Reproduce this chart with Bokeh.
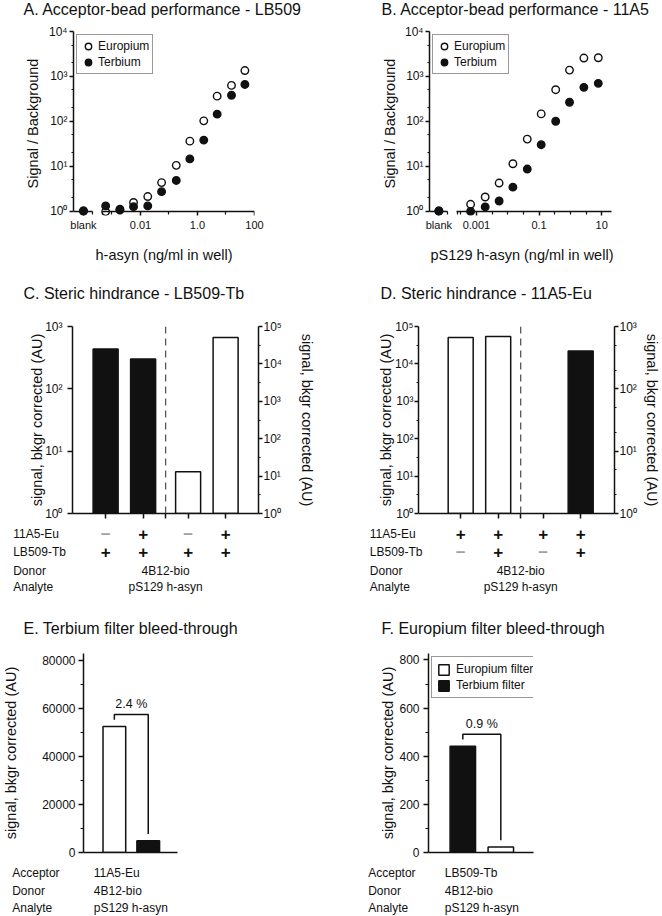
import math
from bokeh.plotting import figure
from bokeh.layouts import column, row
from bokeh.models import (LogAxis, FixedTicker, Range1d, LogScale, Span, Label,
                          ColumnDataSource, Legend, LegendItem)
from bokeh.core.properties import value
from bokeh.embed import file_html
from bokeh.resources import INLINE

FONT = "Liberation Sans"
INK = "#111111"

# ---------------- data ----------------
series_names = ["Europium", "Terbium"]

# A. LB509 acceptor beads, h-asyn (ng/ml in well)
a_conc = [0.0006, 0.0019, 0.0057, 0.018, 0.055, 0.18, 0.54, 1.66, 4.9, 15.6, 46.0]
a_europium = [0.97, 1.05, 1.55, 2.1, 4.3, 10.4, 36, 102, 363, 630, 1350]
a_terbium = [1.3, 1.1, 1.25, 1.3, 2.7, 4.8, 14.5, 38, 144, 380, 660]
a_blank = [1.0, 1.0]
a_xticks = [0.01, 1, 100]
a_xtick_labels = ["0.01", "1.0", "100"]

# B. 11A5 acceptor beads, pS129 h-asyn (ng/ml in well)
b_conc = [0.00065, 0.0019, 0.0053, 0.0146, 0.042, 0.117, 0.34, 0.94, 2.7, 7.8]
b_europium = [1.41, 2.05, 4.2, 11.3, 40, 146, 505, 1380, 2560, 2600]
b_terbium = [0.98, 1.23, 1.67, 3.4, 8.6, 30, 100, 265, 570, 700]
b_blank = [1.0, 1.0]
b_xticks = [0.001, 0.1, 10]
b_xtick_labels = ["0.001", "0.1", "10"]

log_ticks = [1, 10, 100, 1000, 10000, 100000]
log_tick_labels = ["10⁰", "10¹", "10²", "10³", "10⁴", "10⁵"]

# C / D. steric hindrance
table_rows = ["11A5-Eu", "LB509-Tb", "Donor", "Analyte"]
donor = "4B12-bio"
analyte = "pS129 h-asyn"
c_signal = [435, 302, 13, 51000]
c_channel = ["Terbium", "Terbium", "Europium", "Europium"]
c_row_11a5 = ["−", "+", "−", "+"]
c_row_lb509 = ["+", "+", "+", "+"]
d_signal = [51000, 54000, float("nan"), 406]
d_channel = ["Europium", "Europium", "Terbium", "Terbium"]
d_row_11a5 = ["+", "+", "+", "+"]
d_row_lb509 = ["−", "+", "−", "+"]

# E / F. filter bleed-through
ef_rows = ["Acceptor", "Donor", "Analyte"]
e_filters = ["Europium filter", "Terbium filter"]
e_signal = [52600, 4900]
e_percent = "2.4 %"
e_acceptor = "11A5-Eu"
e_yticks = [0, 20000, 40000, 60000, 80000]
f_filters = ["Terbium filter", "Europium filter"]
f_signal = [442, 22.6]
f_percent = "0.9 %"
f_acceptor = "LB509-Tb"
f_yticks = [0, 200, 400, 600, 800]

titles = ["A. Acceptor-bead performance - LB509", "B. Acceptor-bead performance - 11A5",
          "C. Steric hindrance - LB509-Tb", "D. Steric hindrance - 11A5-Eu",
          "E. Terbium filter bleed-through", "F. Europium filter bleed-through"]

CHANNEL_FILL = {"Europium": "white", "Terbium": INK}
FILTER_FILL = {"Europium filter": "white", "Terbium filter": INK}
SIGN_COLOR = {"+": INK, "−": "#a0a0a0"}

UNIT_PX = 37.5      # px per bar slot in C / D
GROUP_GAP = 0.2     # extra slot gap between the two bar groups
COL_W = 331


# ---------------- helpers ----------------
def base_fig(w, h, bl, br, bt, bb, **kw):
    p = figure(width=w, height=h, min_border_left=bl, min_border_right=br,
               min_border_top=bt, min_border_bottom=bb, output_backend="svg",
               toolbar_location=None, **kw)
    p.outline_line_color = None
    p.xgrid.visible = False
    p.ygrid.visible = False
    return p


def strip(w, h, x_range=None):
    p = figure(width=w, height=h, x_range=x_range or Range1d(0, w), y_range=Range1d(h, 0),
               x_axis_type=None, y_axis_type=None, output_backend="svg", toolbar_location=None,
               min_border_left=0, min_border_right=0, min_border_top=0, min_border_bottom=0)
    p.outline_line_color = None
    return p


def put_text(p, x, y, text, size="12px", align="left", x_offset=0, color=INK, style="normal"):
    p.text(x=[x], y=[y], text=[text], x_offset=x_offset, text_font=value(FONT),
           text_font_size=size, text_color=color, text_align=align, text_baseline="middle",
           text_font_style=style)


def style_axis(ax, tick_out=5, label_standoff=4, axis_label_standoff=5, tick_font="12px"):
    ax.axis_line_color = INK
    ax.axis_line_width = 1.5
    ax.major_tick_line_color = INK
    ax.major_tick_line_width = 1.5
    ax.minor_tick_line_color = INK
    ax.minor_tick_line_width = 1.2
    ax.major_tick_in = 0
    ax.major_tick_out = tick_out
    ax.minor_tick_in = 0
    ax.minor_tick_out = max(0, tick_out - 2)
    ax.major_label_standoff = label_standoff
    ax.major_label_text_font = FONT
    ax.major_label_text_font_size = tick_font
    ax.major_label_text_color = INK
    ax.axis_label_standoff = axis_label_standoff
    ax.axis_label_text_font = FONT
    ax.axis_label_text_font_size = "14.5px"
    ax.axis_label_text_font_style = "normal"
    ax.axis_label_text_color = INK


def hide_labels(ax, ticks):
    ax.major_label_overrides = {t: "" for t in ticks}
    ax.major_label_text_font_size = "2px"
    ax.major_label_standoff = 0


def log_minor(lo_exp, hi_exp, mults=(2, 5)):
    return [m * 10 ** k for k in range(lo_exp, hi_exp) for m in mults]


def dose_panel(w, h, bl, br, bt, bb, x_range, conc, eu, tb, blank, blank_x, blank_bounds,
               main_bounds, xticks, xtick_labels, xminor, xlabel, ylab_std):
    p = base_fig(w, h, bl, br, bt, bb, x_range=Range1d(*x_range),
                 y_range=Range1d(10 ** -0.1, 10 ** 4), x_axis_type="log", y_axis_type="log")
    xs = [blank_x] + list(conc)
    p.scatter(xs, [blank[0]] + list(eu), marker="circle", size=7.5, fill_color="white",
              line_color=INK, line_width=1.4, legend_label=series_names[0])
    p.scatter(xs, [blank[1]] + list(tb), marker="circle", size=7.5, fill_color=INK,
              line_color=INK, line_width=1.4, legend_label=series_names[1])

    # labels-only axis at the frame bottom
    lab = p.below[0]
    style_axis(lab, tick_out=0, label_standoff=3, axis_label_standoff=13, tick_font="11px")
    lab.axis_line_color = None
    lab.major_tick_line_color = None
    lab.minor_tick_line_color = None
    lab.minor_tick_out = 0
    ticks = [blank_x] + list(xticks)
    lab.ticker = FixedTicker(ticks=ticks)
    lab.major_label_overrides = dict(zip(ticks, ["blank"] + list(xtick_labels)))
    lab.axis_label = xlabel

    # broken axis line (blank segment + main segment) drawn at y = 1
    for bounds, tks, minors in ((main_bounds, xticks, xminor),
                                (blank_bounds, [blank_x], [blank_bounds[1] * 0.97])):
        ax = LogAxis(ticker=FixedTicker(ticks=list(tks), minor_ticks=list(minors)),
                     bounds=bounds, fixed_location=1)
        style_axis(ax, tick_out=5)
        hide_labels(ax, tks)
        p.add_layout(ax, "below")

    ay = p.left[0]
    style_axis(ay, tick_out=4, label_standoff=2, axis_label_standoff=ylab_std)
    ay.ticker = FixedTicker(ticks=log_ticks[:5], minor_ticks=log_minor(0, 4))
    ay.major_label_overrides = dict(zip(log_ticks, log_tick_labels))
    ay.bounds = (1, 10000)
    ay.axis_label = "Signal / Background"

    lg = p.legend[0]
    lg.location = "top_left"
    lg.margin = 3
    lg.padding = 3
    lg.spacing = 0
    lg.border_line_color = "#333333"
    lg.border_line_width = 1
    lg.label_text_font = FONT
    lg.label_text_font_size = "12px"
    lg.label_text_color = INK
    lg.label_height = 15
    lg.glyph_height = 16
    lg.glyph_width = 16
    lg.label_standoff = 2
    return p


def slot_positions(n):
    pos = [i + 1 + (GROUP_GAP if i >= n // 2 else 0) for i in range(n)]
    divider = (pos[n // 2 - 1] + pos[n // 2]) / 2
    return pos, divider


def steric_panel(w, h, bl, br, bt, bb, x_start, signal, channel, left_channel, left_max, right_max,
                 left_style, right_style):
    fw = w - bl - br
    p = base_fig(w, h, bl, br, bt, bb, x_range=Range1d(x_start, x_start + fw / UNIT_PX),
                 y_range=Range1d(1, left_max), y_axis_type="log")
    p.extra_y_ranges = {"right": Range1d(1, right_max)}
    p.extra_y_scales = {"right": LogScale()}
    n = len(signal)
    pos, divider = slot_positions(n)

    for side in ("left", "right"):
        idx = [i for i in range(n) if (channel[i] == left_channel) == (side == "left")
               and not math.isnan(signal[i])]
        src = ColumnDataSource(dict(x=[pos[i] for i in idx], top=[signal[i] for i in idx],
                                    fill=[CHANNEL_FILL[channel[i]] for i in idx]))
        kw = {} if side == "left" else {"y_range_name": "right"}
        p.vbar(x="x", top="top", bottom=1, width=0.667, fill_color="fill", line_color=INK,
               line_width=1.5, source=src, **kw)

    p.add_layout(Span(location=divider, dimension="height", line_color="#555555",
                      line_width=1.3, line_dash="7 5"))

    ax = p.below[0]
    style_axis(ax, tick_out=5)
    xt = pos[: n // 2] + [divider] + pos[n // 2:]
    ax.ticker = FixedTicker(ticks=xt)
    hide_labels(ax, xt)

    ay = p.left[0]
    tick_out, std, lab_std, minors = left_style
    style_axis(ay, tick_out=tick_out, label_standoff=std, axis_label_standoff=lab_std)
    top_exp = int(round(math.log10(left_max)))
    ay.ticker = FixedTicker(ticks=log_ticks[: top_exp + 1], minor_ticks=minors)
    ay.major_label_overrides = dict(zip(log_ticks, log_tick_labels))
    ay.axis_label = "signal, bkgr corrected (AU)"

    tick_out, std, lab_std, minors = right_style
    r_exp = int(round(math.log10(right_max)))
    ra = LogAxis(y_range_name="right",
                 ticker=FixedTicker(ticks=log_ticks[: r_exp + 1], minor_ticks=minors),
                 major_label_overrides=dict(zip(log_ticks, log_tick_labels)),
                 axis_label="signal, bkgr corrected (AU)")
    style_axis(ra, tick_out=tick_out, label_standoff=std, axis_label_standoff=lab_std)
    p.add_layout(ra, "right")
    return p


def steric_table(w, h, bl, x_start, n, row_11a5, row_lb509, row_dx, row_y, next_title, title_dx, title_y):
    start = x_start - bl / UNIT_PX
    t = strip(w, h, x_range=Range1d(start, start + w / UNIT_PX))
    pos, divider = slot_positions(n)
    for rname, y in zip(table_rows, row_y):
        put_text(t, start, y, rname, x_offset=row_dx)
    for signs, y in ((row_11a5, row_y[0]), (row_lb509, row_y[1])):
        src = ColumnDataSource(dict(x=pos, y=[y] * n, text=signs,
                                    color=[SIGN_COLOR[s] for s in signs]))
        t.text(x="x", y="y", text="text", text_color="color", source=src,
               text_font=value(FONT), text_font_size="17px", text_font_style="bold",
               text_align="center", text_baseline="middle")
    put_text(t, divider, row_y[2], donor, align="center")
    put_text(t, divider, row_y[3], analyte, align="center")
    put_text(t, start, title_y, next_title, size="16px", x_offset=title_dx)
    return t


def bleed_panel(w, h, bl, br, bt, bb, x_start, unit_px, filters, signal, yticks, ymax, percent,
                ylab_std, tick_std, legend=False):
    fw = w - bl - br
    p = base_fig(w, h, bl, br, bt, bb, x_range=Range1d(x_start, x_start + fw / unit_px),
                 y_range=Range1d(0, ymax))
    pos = [i + 1 for i in range(len(signal))]
    src = ColumnDataSource(dict(x=pos, top=signal, fill=[FILTER_FILL[f] for f in filters]))
    r = p.vbar(x="x", top="top", bottom=0, width=0.67, fill_color="fill", line_color=INK,
               line_width=1.5, source=src)

    scale_top = yticks[-1]
    pad = 0.035 * scale_top
    top = max(signal) + 0.062 * scale_top
    p.line([pos[0], pos[0], pos[1], pos[1]], [signal[0] + pad, top, top, signal[1] + pad],
           line_color=INK, line_width=1.5)
    p.add_layout(Label(x=(pos[0] + pos[1]) / 2, y=top, y_offset=3, text=percent, text_font=FONT,
                       text_font_size="12.5px", text_color=INK, text_align="center",
                       text_baseline="bottom"))

    ax = p.below[0]
    style_axis(ax, tick_out=0, label_standoff=0, tick_font="0px")
    ax.ticker = FixedTicker(ticks=[])

    ay = p.left[0]
    style_axis(ay, tick_out=5, label_standoff=tick_std, axis_label_standoff=ylab_std)
    step = yticks[1] - yticks[0]
    ay.ticker = FixedTicker(ticks=yticks, minor_ticks=[t + step / 2 for t in yticks[:-1]])
    ay.major_label_overrides = {t: str(t) for t in yticks}
    ay.axis_label = "signal, bkgr corrected (AU)"

    if legend:
        order = [filters.index("Europium filter"), filters.index("Terbium filter")]
        lg = Legend(items=[LegendItem(label=filters[i], renderers=[r], index=i) for i in order],
                    location="top_left", margin=3, padding=5, spacing=2,
                    border_line_color="#333333", border_line_width=1,
                    label_text_font=FONT, label_text_font_size="12px", label_text_color=INK,
                    label_height=14, glyph_height=13, glyph_width=13, label_standoff=6)
        p.add_layout(lg)
    return p


# ---------------- title strips ----------------
s1 = strip(2 * COL_W, 18)
put_text(s1, 23, 9, titles[0], size="16px")
put_text(s1, 381, 9, titles[1], size="16px")

s2 = strip(2 * COL_W, 34)
put_text(s2, 23, 17, titles[2], size="16px")
put_text(s2, 380, 17, titles[3], size="16px")

# ---------------- row 1: dose responses ----------------
pA = dose_panel(COL_W, 258, 73, 77, 13, 61, (10 ** -4.35, 10 ** 2.0), a_conc, a_europium, a_terbium,
                a_blank, 1e-4, (10 ** -4.35, 10 ** -3.68), (10 ** -3.35, 100), a_xticks, a_xtick_labels,
                [10 ** -3.32, 0.001, 0.1, 10], "h-asyn (ng/ml in well)", 5)
pB = dose_panel(COL_W, 258, 98, 48, 13, 61, (10 ** -4.5, 10 ** 1.41), b_conc, b_europium, b_terbium,
                b_blank, 10 ** -4.2, (10 ** -4.5, 10 ** -3.92), (10 ** -3.64, 20), b_xticks, b_xtick_labels,
                [10 ** -3.6, 10 ** -3.5, 10 ** -2.5, 0.01, 10 ** -1.5, 10 ** -0.5, 1, 10 ** 0.5],
                "pS129 h-asyn (ng/ml in well)", 4)

# ---------------- row 2: steric hindrance ----------------
C_X0, D_X0 = 0.117, -0.125
pC = steric_panel(COL_W, 211, 72, 73, 16, 8, C_X0, c_signal, c_channel, "Terbium", 1000, 100000,
                  (5, 5, -3, []), (4, 1, 14, [10 ** (k + 0.5) for k in range(5)]))
pD = steric_panel(COL_W, 211, 87, 48, 16, 8, D_X0, d_signal, d_channel, "Europium", 100000, 1000,
                  (4, 1, -2, [10 ** (k + 0.5) for k in range(5)]), (4, 1, 4, log_minor(0, 3)))

row_y = [12, 30.7, 49, 65.7]
tC = steric_table(COL_W, 119, 72, C_X0, len(c_signal), c_row_11a5, c_row_lb509, 12.7, row_y,
                  titles[4], 23, 107)
tD = steric_table(COL_W, 119, 87, D_X0, len(d_signal), d_row_11a5, d_row_lb509, 38.3, row_y,
                  titles[5], 50, 107)

# ---------------- row 3: bleed-through ----------------
pE = bleed_panel(COL_W, 221, 71, 154, 13, 9, 0.089, 38.2, e_filters, e_signal, e_yticks, 83000,
                 e_percent, 20, 3)
pF = bleed_panel(COL_W, 221, 97, 129, 13, 9, 0.097, 38.0, f_filters, f_signal, f_yticks, 827,
                 f_percent, 0, 4, legend=True)

t3 = strip(2 * COL_W, 54)
for rname, e_val, f_val, y in zip(ef_rows, [e_acceptor, donor, analyte], [f_acceptor, donor, analyte],
                                  [11.3, 29, 46.7]):
    put_text(t3, 11.7, y, rname)
    put_text(t3, 93.3, y, e_val)
    put_text(t3, 367.7, y, rname)
    put_text(t3, 444.3, y, f_val)

layout = column(s1, row(pA, pB), s2, row(pC, pD), row(tC, tD), row(pE, pF), t3)

with open("out.html", "w") as fh:
    fh.write(file_html(layout, INLINE))
